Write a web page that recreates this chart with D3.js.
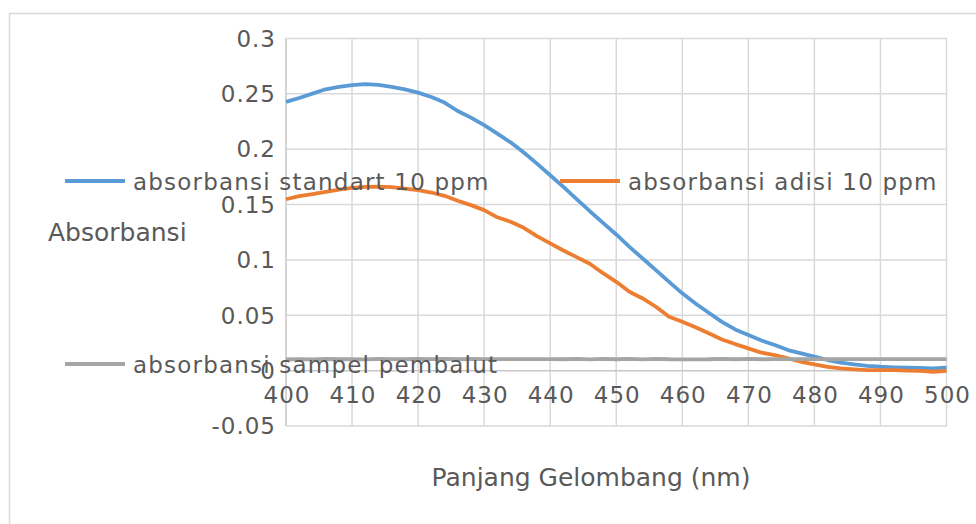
<!DOCTYPE html>
<html>
<head>
<meta charset="utf-8">
<script src="https://cdnjs.cloudflare.com/ajax/libs/d3/7.8.5/d3.min.js"></script>
<style>
  body { margin: 0; background: #fff; }
  text { font-family: "DejaVu Sans", sans-serif; fill: #595959; }
</style>
</head>
<body>
<svg id="chart" width="976" height="524"></svg>
<script>
// wavelength (nm), read every 2 nm
var wavelengths = [400,402,404,406,408,410,412,414,416,418,420,422,424,426,428,430,432,434,436,438,
  440,442,444,446,448,450,452,454,456,458,460,462,464,466,468,470,472,474,476,478,
  480,482,484,486,488,490,492,494,496,498,500];

var standart = [0.2427,0.2463,0.2502,0.2541,0.2563,0.2578,0.2587,0.2581,0.2563,0.2541,
  0.2511,0.2472,0.2421,0.2345,0.2285,0.2217,0.2140,0.2062,0.1970,0.1870,
  0.1765,0.1660,0.1550,0.1440,0.1335,0.1230,0.1118,0.1013,0.0908,0.0802,
  0.0698,0.0607,0.0523,0.0441,0.0372,0.0321,0.0272,0.0231,0.0186,0.0156,
  0.0126,0.0096,0.0072,0.0057,0.0044,0.0035,0.0030,0.0027,0.0024,0.0021,0.0027];

var adisi = [0.1548,0.1576,0.1594,0.1615,0.1636,0.1650,0.1660,0.1663,0.1657,0.1645,
  0.1630,0.1609,0.1579,0.1535,0.1495,0.1450,0.1385,0.1345,0.1290,0.1215,
  0.1149,0.1085,0.1025,0.0965,0.0880,0.0802,0.0712,0.0652,0.0577,0.0486,
  0.0441,0.0391,0.0337,0.0282,0.0240,0.0201,0.0162,0.0141,0.0111,0.0080,
  0.0057,0.0035,0.0021,0.0012,0.0005,0.0005,0.0005,0.0000,-0.0002,-0.0010,-0.0003];

var sampel = [0.0102,0.0103,0.0102,0.0105,0.0103,0.0104,0.0102,0.0105,0.0104,0.0103,
  0.0105,0.0104,0.0106,0.0103,0.0105,0.0104,0.0104,0.0104,0.0104,0.0104,
  0.0104,0.0103,0.0107,0.0102,0.0106,0.0103,0.0106,0.0102,0.0107,0.0103,
  0.0102,0.0102,0.0103,0.0107,0.0103,0.0106,0.0103,0.0104,0.0104,0.0104,
  0.0104,0.0104,0.0104,0.0104,0.0104,0.0104,0.0104,0.0104,0.0104,0.0104,0.0104];

var xTicks = [400,410,420,430,440,450,460,470,480,490,500];
var yTicks = [-0.05,0,0.05,0.1,0.15,0.2,0.25,0.3];
var yTickLabels = ["-0.05","0","0.05","0.1","0.15","0.2","0.25","0.3"];

var seriesNames = ["absorbansi standart 10 ppm", "absorbansi adisi 10 ppm", "absorbansi sampel pembalut"];
var colors = ["#5b9bd5", "#ed7d31", "#a5a5a5"];

var svg = d3.select("#chart");

// outer chart border (cut off at right/bottom)
svg.append("rect")
  .attr("x", 9.5).attr("y", 13.5)
  .attr("width", 1000).attr("height", 600)
  .attr("fill", "none")
  .attr("stroke", "#d9d9d9")
  .attr("stroke-width", 1.5);

var x = d3.scaleLinear().domain([400, 500]).range([286, 946.5]);
var y = d3.scaleLinear().domain([-0.05, 0.3]).range([426, 38.5]);

var grid = svg.append("g");
grid.selectAll(".vg").data(xTicks).enter().append("line")
  .attr("x1", function(d) { return x(d); })
  .attr("x2", function(d) { return x(d); })
  .attr("y1", y(0.3)).attr("y2", y(-0.05))
  .attr("stroke", "#d9d9d9").attr("stroke-width", 1.5);
grid.selectAll(".hg").data(yTicks).enter().append("line")
  .attr("x1", x(400)).attr("x2", x(500))
  .attr("y1", function(d) { return y(d); })
  .attr("y2", function(d) { return y(d); })
  .attr("stroke", function(d) { return d === 0 ? "#c8c8c8" : "#d9d9d9"; })
  .attr("stroke-width", 1.5);

// y axis line
svg.append("line")
  .attr("x1", x(400)).attr("x2", x(400))
  .attr("y1", y(0.3)).attr("y2", y(-0.05))
  .attr("stroke", "#cfcfcf").attr("stroke-width", 1.5);

// tick labels
svg.selectAll(".yl").data(yTicks).enter().append("text")
  .attr("x", 276)
  .attr("y", function(d) { return y(d); })
  .attr("dy", "0.36em")
  .attr("text-anchor", "end")
  .style("font-size", "23px")
  .style("letter-spacing", "1px")
  .text(function(d, i) { return yTickLabels[i]; });

svg.selectAll(".xl").data(xTicks).enter().append("text")
  .attr("x", function(d) { return x(d) + 1; })
  .attr("y", 402.5)
  .attr("text-anchor", "middle")
  .style("font-size", "23px")
  .style("letter-spacing", "1px")
  .text(function(d) { return d; });

// series
var line = d3.line()
  .x(function(d) { return x(d[0]); })
  .y(function(d) { return y(d[1]); });

[standart, adisi, sampel].forEach(function(vals, i) {
  svg.append("path")
    .datum(wavelengths.map(function(w, j) { return [w, vals[j]]; }))
    .attr("d", line)
    .attr("fill", "none")
    .attr("stroke", colors[i])
    .attr("stroke-width", 3.8)
    .attr("stroke-linejoin", "round");
});

// legend (sits over the plot, as in the original)
var legendPos = [[65, 181], [560, 181], [65, 364]];
legendPos.forEach(function(p, i) {
  svg.append("line")
    .attr("x1", p[0]).attr("x2", p[0] + 60)
    .attr("y1", p[1]).attr("y2", p[1])
    .attr("stroke", colors[i]).attr("stroke-width", 3.8);
  svg.append("text")
    .attr("x", p[0] + 68)
    .attr("y", p[1] + 9)
    .style("font-size", "23px")
    .style("letter-spacing", "1.2px")
    .text(seriesNames[i]);
});

// axis titles
svg.append("text")
  .attr("x", 48).attr("y", 241)
  .style("font-size", "25px")
  .text("Absorbansi");

svg.append("text")
  .attr("x", 591).attr("y", 485.5)
  .attr("text-anchor", "middle")
  .style("font-size", "25px")
  .text("Panjang Gelombang (nm)");
</script>
</body>
</html>
